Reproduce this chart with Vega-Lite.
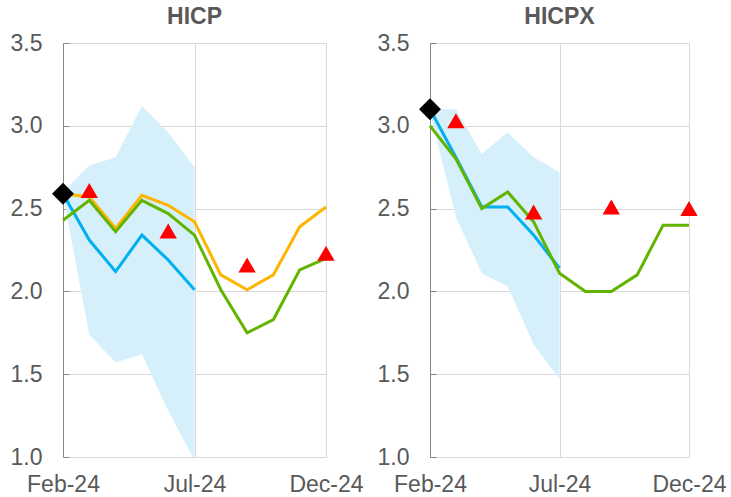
{
  "$schema": "https://vega.github.io/schema/vega-lite/v6.json",
  "padding": {"left": 10, "top": 6, "right": 2, "bottom": 2},
  "background": "white",
  "config": {
    "font": "Liberation Sans",
    "view": {"stroke": null},
    "axis": {"labelFont": "Liberation Sans", "labelFontSize": 23, "labelColor": "#595959", "gridColor": "#d9d9d9", "gridWidth": 1, "title": null},
    "title": {"font": "Liberation Sans", "fontSize": 23, "fontWeight": "bold", "color": "#595959", "anchor": "middle", "offset": 3}
  },
  "datasets": {
    "hicp_band": [
      {"month": "Feb-24", "lo": 2.58, "hi": 2.60},
      {"month": "Mar-24", "lo": 1.74, "hi": 2.76},
      {"month": "Apr-24", "lo": 1.57, "hi": 2.81},
      {"month": "May-24", "lo": 1.62, "hi": 3.12},
      {"month": "Jun-24", "lo": 1.28, "hi": 2.96},
      {"month": "Jul-24", "lo": 0.98, "hi": 2.75}
    ],
    "hicp_lines": [
      {"month": "Feb-24", "series": "Nowcast", "value": 2.59},
      {"month": "Mar-24", "series": "Nowcast", "value": 2.31},
      {"month": "Apr-24", "series": "Nowcast", "value": 2.12},
      {"month": "May-24", "series": "Nowcast", "value": 2.34},
      {"month": "Jun-24", "series": "Nowcast", "value": 2.19},
      {"month": "Jul-24", "series": "Nowcast", "value": 2.01},
      {"month": "Feb-24", "series": "Orange", "value": 2.59},
      {"month": "Mar-24", "series": "Orange", "value": 2.57},
      {"month": "Apr-24", "series": "Orange", "value": 2.38},
      {"month": "May-24", "series": "Orange", "value": 2.58},
      {"month": "Jun-24", "series": "Orange", "value": 2.52},
      {"month": "Jul-24", "series": "Orange", "value": 2.42},
      {"month": "Aug-24", "series": "Orange", "value": 2.10},
      {"month": "Sep-24", "series": "Orange", "value": 2.01},
      {"month": "Oct-24", "series": "Orange", "value": 2.10},
      {"month": "Nov-24", "series": "Orange", "value": 2.39},
      {"month": "Dec-24", "series": "Orange", "value": 2.51},
      {"month": "Feb-24", "series": "Green", "value": 2.43},
      {"month": "Mar-24", "series": "Green", "value": 2.55},
      {"month": "Apr-24", "series": "Green", "value": 2.36},
      {"month": "May-24", "series": "Green", "value": 2.55},
      {"month": "Jun-24", "series": "Green", "value": 2.47},
      {"month": "Jul-24", "series": "Green", "value": 2.34},
      {"month": "Aug-24", "series": "Green", "value": 2.01},
      {"month": "Sep-24", "series": "Green", "value": 1.75},
      {"month": "Oct-24", "series": "Green", "value": 1.83},
      {"month": "Nov-24", "series": "Green", "value": 2.13},
      {"month": "Dec-24", "series": "Green", "value": 2.20}
    ],
    "hicp_tri": [
      {"month": "Mar-24", "value": 2.61},
      {"month": "Jun-24", "value": 2.365},
      {"month": "Sep-24", "value": 2.16},
      {"month": "Dec-24", "value": 2.23}
    ],
    "hicp_dia": [
      {"month": "Feb-24", "value": 2.59}
    ],
    "hicpx_band": [
      {"month": "Feb-24", "lo": 3.08, "hi": 3.10},
      {"month": "Mar-24", "lo": 2.45, "hi": 3.10},
      {"month": "Apr-24", "lo": 2.11, "hi": 2.83},
      {"month": "May-24", "lo": 2.03, "hi": 2.96},
      {"month": "Jun-24", "lo": 1.68, "hi": 2.81},
      {"month": "Jul-24", "lo": 1.47, "hi": 2.72}
    ],
    "hicpx_lines": [
      {"month": "Feb-24", "series": "Nowcast", "value": 3.10},
      {"month": "Mar-24", "series": "Nowcast", "value": 2.81},
      {"month": "Apr-24", "series": "Nowcast", "value": 2.51},
      {"month": "May-24", "series": "Nowcast", "value": 2.51},
      {"month": "Jun-24", "series": "Nowcast", "value": 2.34},
      {"month": "Jul-24", "series": "Nowcast", "value": 2.14},
      {"month": "Feb-24", "series": "Green", "value": 3.00},
      {"month": "Mar-24", "series": "Green", "value": 2.80},
      {"month": "Apr-24", "series": "Green", "value": 2.50},
      {"month": "May-24", "series": "Green", "value": 2.60},
      {"month": "Jun-24", "series": "Green", "value": 2.42},
      {"month": "Jul-24", "series": "Green", "value": 2.11},
      {"month": "Aug-24", "series": "Green", "value": 2.00},
      {"month": "Sep-24", "series": "Green", "value": 2.00},
      {"month": "Oct-24", "series": "Green", "value": 2.10},
      {"month": "Nov-24", "series": "Green", "value": 2.40},
      {"month": "Dec-24", "series": "Green", "value": 2.40}
    ],
    "hicpx_tri": [
      {"month": "Mar-24", "value": 3.03},
      {"month": "Jun-24", "value": 2.48},
      {"month": "Sep-24", "value": 2.51},
      {"month": "Dec-24", "value": 2.50}
    ],
    "hicpx_dia": [
      {"month": "Feb-24", "value": 3.10}
    ]
  },
  "hconcat": [
    {
      "width": 263,
      "height": 414,
      "title": "HICP",
      "encoding": {
        "x": {"field": "month", "type": "ordinal",
          "scale": {"type": "point", "padding": 0, "domain": ["Feb-24","Mar-24","Apr-24","May-24","Jun-24","Jul-24","Aug-24","Sep-24","Oct-24","Nov-24","Dec-24"]},
          "axis": {"values": ["Feb-24","Jul-24","Dec-24"], "labelAngle": 0, "ticks": false, "labelPadding": 16, "domainColor": "#d9d9d9", "grid": true, "labelOverlap": false, "labelFlush": false, "labelBound": false}},
        "y": {"field": "value", "type": "quantitative",
          "scale": {"domain": [1, 3.5], "nice": false, "zero": false},
          "axis": {"values": [1, 1.5, 2, 2.5, 3, 3.5], "format": ".1f", "domainColor": "#868686", "tickColor": "#868686", "tickSize": -6, "labelPadding": 27, "grid": true}}
      },
      "layer": [
        {"data": {"name": "hicp_band"}, "mark": {"type": "area", "color": "#d5f0fb", "opacity": 1},
          "encoding": {"y": {"field": "lo", "type": "quantitative"}, "y2": {"field": "hi"}}},
        {"data": {"name": "hicp_lines"}, "mark": {"type": "line", "strokeWidth": 3},
          "encoding": {"color": {"field": "series", "type": "nominal", "legend": null,
            "scale": {"domain": ["Nowcast", "Orange", "Green"], "range": ["#00b0f0", "#ffb400", "#62b400"]}}}},
        {"data": {"name": "hicp_tri"}, "mark": {"type": "point", "shape": "triangle-up", "filled": true, "color": "#ff0000", "size": 300, "opacity": 1}},
        {"data": {"name": "hicp_dia"}, "mark": {"type": "point", "shape": "diamond", "filled": true, "color": "#000000", "size": 480, "opacity": 1}}
      ]
    },
    {
      "width": 259,
      "height": 414,
      "title": "HICPX",
      "encoding": {
        "x": {"field": "month", "type": "ordinal",
          "scale": {"type": "point", "padding": 0, "domain": ["Feb-24","Mar-24","Apr-24","May-24","Jun-24","Jul-24","Aug-24","Sep-24","Oct-24","Nov-24","Dec-24"]},
          "axis": {"values": ["Feb-24","Jul-24","Dec-24"], "labelAngle": 0, "ticks": false, "labelPadding": 16, "domainColor": "#d9d9d9", "grid": true, "labelOverlap": false, "labelFlush": false, "labelBound": false}},
        "y": {"field": "value", "type": "quantitative",
          "scale": {"domain": [1, 3.5], "nice": false, "zero": false},
          "axis": {"values": [1, 1.5, 2, 2.5, 3, 3.5], "format": ".1f", "domainColor": "#868686", "tickColor": "#868686", "tickSize": -6, "labelPadding": 27, "grid": true}}
      },
      "layer": [
        {"data": {"name": "hicpx_band"}, "mark": {"type": "area", "color": "#d5f0fb", "opacity": 1},
          "encoding": {"y": {"field": "lo", "type": "quantitative"}, "y2": {"field": "hi"}}},
        {"data": {"name": "hicpx_lines"}, "mark": {"type": "line", "strokeWidth": 3},
          "encoding": {"color": {"field": "series", "type": "nominal", "legend": null,
            "scale": {"domain": ["Nowcast", "Green"], "range": ["#00b0f0", "#62b400"]}}}},
        {"data": {"name": "hicpx_tri"}, "mark": {"type": "point", "shape": "triangle-up", "filled": true, "color": "#ff0000", "size": 300, "opacity": 1}},
        {"data": {"name": "hicpx_dia"}, "mark": {"type": "point", "shape": "diamond", "filled": true, "color": "#000000", "size": 480, "opacity": 1}}
      ]
    }
  ],
  "spacing": 13
}
